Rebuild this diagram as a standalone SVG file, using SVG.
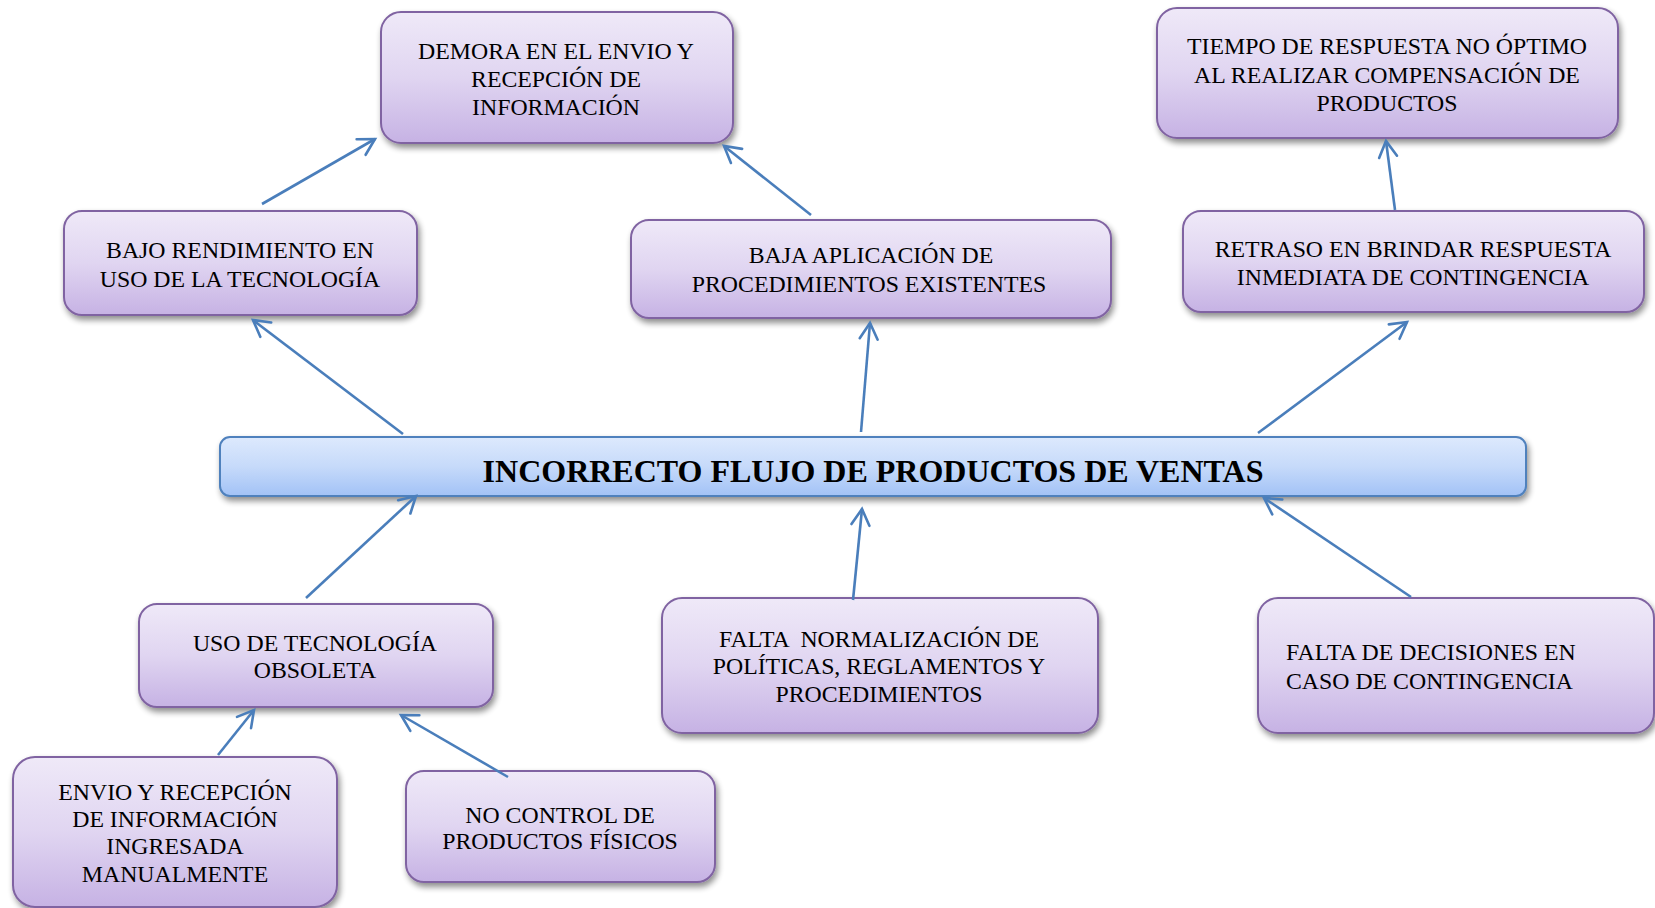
<svg xmlns="http://www.w3.org/2000/svg" width="1655" height="908" viewBox="0 0 1655 908">
<defs>
<linearGradient id="gP" x1="0" y1="0" x2="0" y2="1">
<stop offset="0" stop-color="#efe9f8"/>
<stop offset="0.5" stop-color="#e0d5f1"/>
<stop offset="1" stop-color="#c6b2e4"/>
</linearGradient>
<linearGradient id="gB" x1="0" y1="0" x2="0" y2="1">
<stop offset="0" stop-color="#dde9fd"/>
<stop offset="0.5" stop-color="#c6dafa"/>
<stop offset="1" stop-color="#a2c2f6"/>
</linearGradient>
<filter id="sh" x="-10%" y="-20%" width="120%" height="150%">
<feGaussianBlur in="SourceAlpha" stdDeviation="3"/>
<feOffset dx="2" dy="4" result="b"/>
<feComponentTransfer><feFuncA type="linear" slope="0.45"/></feComponentTransfer>
<feMerge><feMergeNode/><feMergeNode in="SourceGraphic"/></feMerge>
</filter>
<marker id="ah" markerUnits="userSpaceOnUse" markerWidth="40" markerHeight="40" refX="0" refY="0" viewBox="-20 -20 40 40" orient="auto" overflow="visible">
<path d="M-16,-9 L0,0 L-16,9" fill="none" stroke="#4a7ebb" stroke-width="2.6" stroke-linecap="round" stroke-linejoin="miter"/>
</marker>
</defs>
<style>
.box{fill:url(#gP);stroke:#8064a2;stroke-width:2;filter:url(#sh)}
.main{fill:url(#gB);stroke:#4f81bd;stroke-width:2;filter:url(#sh)}
.t{font-family:"Liberation Serif","Times New Roman",serif;font-size:23.8px;fill:#000;text-anchor:middle}
.tl{font-family:"Liberation Serif","Times New Roman",serif;font-size:23.8px;fill:#000;text-anchor:start}
.title{font-family:"Liberation Serif","Times New Roman",serif;font-size:32px;font-weight:bold;fill:#000;text-anchor:middle}
.c{stroke:#4a7ebb;stroke-width:2.6;fill:none;marker-end:url(#ah)}
</style>
<rect width="1655" height="908" fill="#fff"/>

<g id="n-demora">
<rect class="box" x="381" y="12" width="352" height="131" rx="20"/>
<text class="t" x="556" y="59">DEMORA EN EL ENVIO Y</text>
<text class="t" x="556" y="87">RECEPCIÓN DE</text>
<text class="t" x="556" y="115">INFORMACIÓN</text>
</g>

<g id="n-tiempo">
<rect class="box" x="1157" y="8" width="461" height="130" rx="20"/>
<text class="t" x="1387" y="54">TIEMPO DE RESPUESTA NO ÓPTIMO</text>
<text class="t" x="1387" y="83">AL REALIZAR COMPENSACIÓN DE</text>
<text class="t" x="1387" y="111">PRODUCTOS</text>
</g>

<g id="n-bajo">
<rect class="box" x="64" y="211" width="353" height="104" rx="18"/>
<text class="t" x="240" y="258">BAJO RENDIMIENTO EN</text>
<text class="t" x="240" y="287">USO DE LA TECNOLOGÍA</text>
</g>

<g id="n-baja">
<rect class="box" x="631" y="220" width="480" height="98" rx="18"/>
<text class="t" x="871" y="263">BAJA APLICACIÓN DE</text>
<text class="t" x="869" y="292">PROCEDIMIENTOS EXISTENTES</text>
</g>

<g id="n-retraso">
<rect class="box" x="1183" y="211" width="461" height="101" rx="18"/>
<text class="t" x="1413" y="257">RETRASO EN BRINDAR RESPUESTA</text>
<text class="t" x="1413" y="285">INMEDIATA DE CONTINGENCIA</text>
</g>

<g id="n-central">
<rect class="main" x="220" y="437" width="1306" height="59" rx="10"/>
<text class="title" x="873" y="482">INCORRECTO FLUJO DE PRODUCTOS DE VENTAS</text>
</g>

<g id="n-uso">
<rect class="box" x="139" y="604" width="354" height="103" rx="18"/>
<text class="t" x="315" y="651">USO DE TECNOLOGÍA</text>
<text class="t" x="315" y="678">OBSOLETA</text>
</g>

<g id="n-falta-norm">
<rect class="box" x="662" y="598" width="436" height="135" rx="20"/>
<text class="t" x="879" y="647" xml:space="preserve">FALTA  NORMALIZACIÓN DE</text>
<text class="t" x="879" y="674">POLÍTICAS, REGLAMENTOS Y</text>
<text class="t" x="879" y="702">PROCEDIMIENTOS</text>
</g>

<g id="n-falta-dec">
<rect class="box" x="1258" y="598" width="396" height="135" rx="20"/>
<text class="tl" x="1286" y="660">FALTA DE DECISIONES EN</text>
<text class="tl" x="1286" y="689">CASO DE CONTINGENCIA</text>
</g>

<g id="n-envio">
<rect class="box" x="13" y="757" width="324" height="150" rx="22"/>
<text class="t" x="175" y="800">ENVIO Y RECEPCIÓN</text>
<text class="t" x="175" y="827">DE INFORMACIÓN</text>
<text class="t" x="175" y="854">INGRESADA</text>
<text class="t" x="175" y="882">MANUALMENTE</text>
</g>

<g id="n-nocontrol">
<rect class="box" x="406" y="771" width="309" height="111" rx="18"/>
<text class="t" x="560" y="823">NO CONTROL DE</text>
<text class="t" x="560" y="849">PRODUCTOS FÍSICOS</text>
</g>

<g id="connectors">
<line class="c" x1="262" y1="204" x2="375" y2="139"/>
<line class="c" x1="811" y1="215" x2="724" y2="146"/>
<line class="c" x1="1395" y1="210" x2="1386" y2="141"/>
<line class="c" x1="403" y1="434" x2="253" y2="320"/>
<line class="c" x1="861" y1="432" x2="870" y2="323"/>
<line class="c" x1="1258" y1="433" x2="1407" y2="322"/>
<line class="c" x1="306" y1="598" x2="416" y2="496"/>
<line class="c" x1="853" y1="600" x2="862" y2="509"/>
<line class="c" x1="1411" y1="597" x2="1264" y2="498"/>
<line class="c" x1="218" y1="755" x2="254" y2="710"/>
<line class="c" x1="508" y1="777" x2="401" y2="715"/>
</g>
</svg>
